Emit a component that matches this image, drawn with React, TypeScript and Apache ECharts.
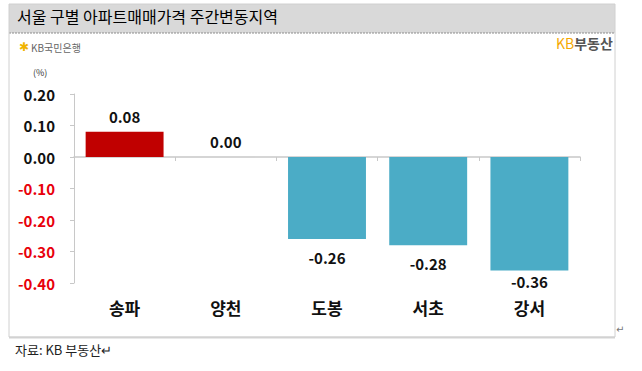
import React, { useEffect, useRef } from "react";
import * as echarts from "echarts";

const categories = ["송파", "양천", "도봉", "서초", "강서"];
const values = [0.08, 0.0, -0.26, -0.28, -0.36];
const barColors = ["#c00000", "#9fc4d2", "#4bacc6", "#4bacc6", "#4bacc6"];
const labelGaps = [8, 8, 11, 11, 4];
const titleText = "서울 구별 아파트매매가격 주간변동지역";
const sourceText = "자료: KB 부동산↵";
const unitText = "(%)";

const FONT = "'Noto Sans CJK KR', 'Noto Sans', sans-serif";

export default function App() {
  const ref = useRef<HTMLDivElement>(null);
  useEffect(() => {
    if (!ref.current) return;
    const chart = echarts.init(ref.current, null, { renderer: "svg" });
    chart.setOption({
      animation: false,
      backgroundColor: "#ffffff",
      textStyle: { fontFamily: FONT },
      grid: { left: 74, right: 62, top: 94, bottom: 88, containLabel: false },
      xAxis: [
        {
          type: "category",
          data: categories,
          axisLine: { onZero: true, lineStyle: { color: "#c8c8c8", width: 1.5 } },
          axisTick: { show: true, alignWithLabel: false, length: 4, lineStyle: { color: "#c8c8c8" } },
          axisLabel: { show: false },
        },
        {
          type: "category",
          data: categories,
          position: "bottom",
          axisLine: { show: false, onZero: false },
          axisTick: { show: false },
          axisLabel: {
            show: true,
            margin: 16,
            fontSize: 17,
            fontWeight: "bold",
            color: "#111",
            fontFamily: FONT,
          },
        },
      ],
      yAxis: {
        type: "value",
        min: -0.4,
        max: 0.2,
        interval: 0.1,
        splitLine: { show: false },
        axisLine: { show: true, lineStyle: { color: "#c8c8c8" } },
        axisTick: { show: true, length: 4, lineStyle: { color: "#c8c8c8" } },
        axisLabel: {
          margin: 19,
          fontSize: 15,
          fontWeight: "bold",
          fontFamily: FONT,
          formatter: (v: number) => v.toFixed(2),
          color: (v: any) => (Number(v) < -1e-9 ? "#e8000b" : "#111"),
        },
      },
      series: [
        {
          type: "bar",
          xAxisIndex: 0,
          barWidth: "77%",
          data: values.map((v, i) => ({
            value: v,
            itemStyle: { color: barColors[i] },
            label: {
              show: true,
              position: v < 0 ? "bottom" : "top",
              distance: labelGaps[i],
              formatter: () => v.toFixed(2),
              fontSize: 15,
              fontWeight: "bold",
              color: "#111",
              fontFamily: FONT,
            },
          })),
        },
      ],
      graphic: [
        {
          type: "rect",
          shape: { x: 9, y: 4, width: 606, height: 333 },
          style: { fill: "none", stroke: "#d0d0d0", lineWidth: 1 },
          z: 1,
        },
        {
          type: "line",
          shape: { x1: 9, y1: 337.5, x2: 615, y2: 337.5 },
          style: { stroke: "#d4d4d4", lineWidth: 2 },
        },
        {
          type: "rect",
          shape: { x: 9, y: 4, width: 606, height: 29 },
          style: { fill: "#d9d9d9" },
        },
        {
          type: "line",
          shape: { x1: 9, y1: 33, x2: 615, y2: 33 },
          style: { stroke: "#8c8c8c", lineWidth: 1, lineDash: [2, 1] },
        },
        {
          type: "text",
          left: 17,
          top: 8,
          style: { text: titleText, fontSize: 16, fill: "#000", fontFamily: FONT },
        },
        {
          type: "text",
          left: 19,
          top: 41,
          style: { text: "✱", fontSize: 12, fill: "#f0b400", fontFamily: "DejaVu Sans" },
        },
        {
          type: "text",
          left: 31,
          top: 42,
          style: { text: "KB국민은행", fontSize: 10, fill: "#666", fontFamily: FONT },
        },
        {
          type: "text",
          left: 556,
          top: 36,
          style: {
            rich: {
              a: { fontSize: 14, fill: "#f5a800", fontFamily: FONT },
              b: { fontSize: 14, fill: "#555", fontWeight: "bold", fontFamily: FONT },
            },
            text: "{a|KB}{b|부동산}",
          },
        },
        {
          type: "text",
          left: 33,
          top: 68,
          style: { text: unitText, fontSize: 9, fill: "#333", fontFamily: FONT },
        },
        {
          type: "text",
          left: 15,
          top: 343,
          style: { text: sourceText, fontSize: 13, fill: "#222", fontFamily: FONT },
        },
        {
          type: "text",
          left: 616,
          top: 324,
          style: { text: "↵", fontSize: 10, fill: "#777", fontFamily: "DejaVu Sans" },
        },
      ],
    });
    return () => chart.dispose();
  }, []);
  return (
    <div
      ref={ref}
      style={{ position: "absolute", left: 0, top: 0, width: 642, height: 371 }}
    />
  );
}
